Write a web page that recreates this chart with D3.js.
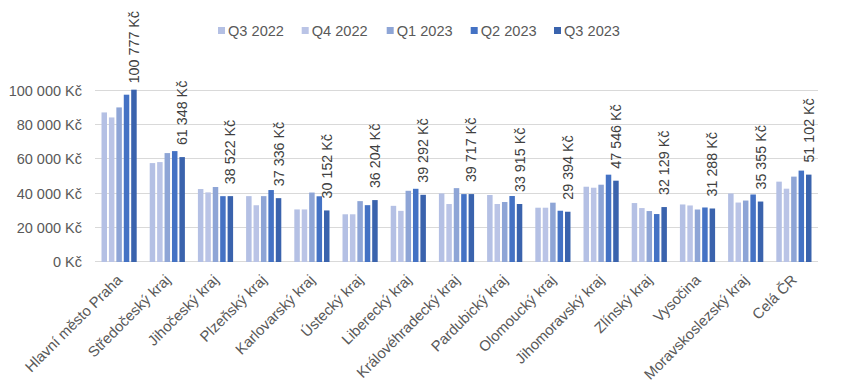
<!DOCTYPE html>
<html>
<head>
<meta charset="utf-8">
<script src="https://cdn.jsdelivr.net/npm/d3@7"></script>
<style>
  html, body { margin: 0; padding: 0; background: #fff; }
  svg { display: block; font-family: "Liberation Sans", Arial, sans-serif; }
</style>
</head>
<body>
<svg id="chart" width="843" height="391"></svg>
<script>
const categories = ["Hlavní město Praha", "Středočeský kraj", "Jihočeský kraj", "Plzeňský kraj",
  "Karlovarský kraj", "Ústecký kraj", "Liberecký kraj", "Královéhradecký kraj", "Pardubický kraj",
  "Olomoucký kraj", "Jihomoravský kraj", "Zlínský kraj", "Vysočina", "Moravskoslezský kraj", "Celá ČR"];
const seriesNames = ["Q3 2022", "Q4 2022", "Q1 2023", "Q2 2023", "Q3 2023"];
const q3_2022 = [87470, 57840, 42670, 38520, 30740, 27900, 32840, 40100, 39180, 31750, 44020, 34470, 33650, 40070, 46990];
const q4_2022 = [84540, 58430, 40710, 33190, 30740, 27900, 29910, 33900, 33915, 31750, 43440, 31540, 33060, 34770, 42880];
const q1_2023 = [90400, 63690, 43860, 38520, 40620, 35600, 41640, 43200, 35090, 34690, 45200, 29790, 30700, 35940, 49930];
const q2_2023 = [97840, 64850, 38500, 42080, 38430, 33240, 42810, 39700, 38590, 29980, 51070, 28040, 31880, 39480, 53450];
const q3_2023 = [100777, 61348, 38522, 37336, 30152, 36204, 39292, 39717, 33915, 29394, 47546, 32129, 31288, 35355, 51102];
const yTicks = [0, 20000, 40000, 60000, 80000, 100000];
const colors = ["#b4c0e4", "#bac4e6", "#8ea5d6", "#4472c4", "#3a63ad"];

(function () {
const series = [q3_2022, q4_2022, q1_2023, q2_2023, q3_2023];
const fmt = v => d3.format(",")(v).replace(/,/g, "\u00a0") + "\u00a0Kč";

const svg = d3.select("#chart");
const pLeft = 95, pRight = 818, pTop = 91, pBottom = 262;

const x = d3.scaleBand().domain(categories).range([pLeft, pRight]).paddingInner(0.27).paddingOuter(0.135);
const xs = d3.scaleBand().domain(seriesNames).range([0, x.bandwidth()]).paddingInner(0.26);
const y = d3.scaleLinear().domain([0, 100000]).range([pBottom, pTop]);

// gridlines
svg.append("g").selectAll("line").data(yTicks).join("line")
  .attr("x1", pLeft).attr("x2", pRight)
  .attr("y1", d => Math.round(y(d)) - 0.5).attr("y2", d => Math.round(y(d)) - 0.5)
  .attr("stroke", "#d9d9d9").attr("stroke-width", 1);

// y labels
svg.append("g").selectAll("text").data(yTicks).join("text")
  .attr("x", 82).attr("y", d => y(d)).attr("dy", "0.35em")
  .attr("text-anchor", "end").attr("font-size", "14.5px").attr("fill", "#595959")
  .text(d => fmt(d));

// bars
const g = svg.append("g");
series.forEach((vals, si) => {
  g.append("g").selectAll("rect").data(vals).join("rect")
    .attr("x", (d, i) => x(categories[i]) + xs(seriesNames[si]))
    .attr("width", xs.bandwidth())
    .attr("y", d => y(d))
    .attr("height", d => y(0) - y(d))
    .attr("fill", colors[si]);
});

// data labels on last series
const lbl = svg.append("g").selectAll("text").data(q3_2023).join("text")
  .attr("text-anchor", "start").attr("font-size", "14.3px").attr("fill", "#404040")
  .attr("dy", "0.35em")
  .text(d => fmt(d));
lbl.each(function (d, i) {
  const len = this.getComputedTextLength();
  let start = y(d) - 12;
  if (start - len < 11) start = 11 + len;
  const cx = x(categories[i]) + xs(seriesNames[4]) + xs.bandwidth() / 2;
  d3.select(this).attr("transform", `translate(${cx},${start}) rotate(-90)`);
});

// x labels
svg.append("g").selectAll("text").data(categories).join("text")
  .attr("text-anchor", "end").attr("font-size", "14.8px").attr("fill", "#595959")
  .attr("transform", d => `translate(${x(d) + x.bandwidth() / 2 + 4},281) rotate(-45)`)
  .text(d => d);

// legend
const legX = [218, 301.7, 386.7, 470.7, 554];
const leg = svg.append("g").selectAll("g").data(seriesNames).join("g")
  .attr("transform", (d, i) => `translate(${legX[i]},27)`);
leg.append("rect").attr("width", 7).attr("height", 7).attr("fill", (d, i) => colors[i]);
leg.append("text").attr("x", 10).attr("y", 3.5).attr("dy", "0.35em")
  .attr("font-size", "14.6px").attr("fill", "#595959").text(d => d);
})();
</script>
</body>
</html>
